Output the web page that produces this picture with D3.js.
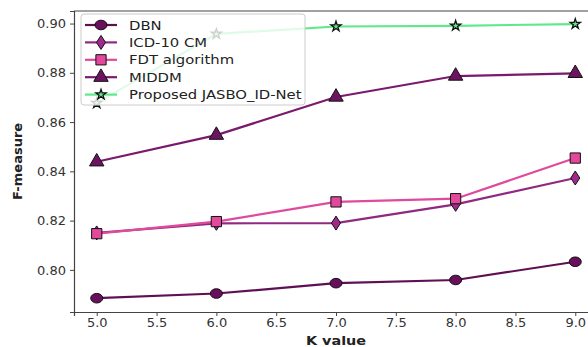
<!DOCTYPE html>
<html><head><meta charset="utf-8">
<script src="https://cdn.jsdelivr.net/npm/d3@7"></script>
<style>body{margin:0;background:#fff;}svg{display:block;font-family:"DejaVu Sans",sans-serif;}</style>
</head><body>
<svg id="c" width="588" height="347"></svg>
<script>
const kValues = [5, 6, 7, 8, 9];
const dbn = [0.7885, 0.7904, 0.7946, 0.7959, 0.8033];
const icd10 = [0.8150, 0.8189, 0.8190, 0.8266, 0.8373];
const fdt = [0.8147, 0.8196, 0.8276, 0.8289, 0.8454];
const middm = [0.8439, 0.8547, 0.8702, 0.8787, 0.8798];
const proposed = [0.8677, 0.8958, 0.8988, 0.8991, 0.8998];
const xTicks = [5.0, 5.5, 6.0, 6.5, 7.0, 7.5, 8.0, 8.5, 9.0];
const yTicks = [0.80, 0.82, 0.84, 0.86, 0.88, 0.90];

const series = [
  {name: "DBN", values: dbn, line: "#5e1053", fill: "#6a0f5c", marker: "circle"},
  {name: "ICD-10 CM", values: icd10, line: "#8f2a80", fill: "#a02a8c", marker: "diamond"},
  {name: "FDT algorithm", values: fdt, line: "#e04a9c", fill: "#e2489c", marker: "square"},
  {name: "MIDDM", values: middm, line: "#7a1a6c", fill: "#6c1462", marker: "triangle"},
  {name: "Proposed JASBO_ID-Net", values: proposed, line: "#5fe88c", fill: "#5fe88c", marker: "star"}
];

const svg = d3.select("#c");
const L = 74, R = 598, T = 11, B = 312;
const x = d3.scaleLinear().domain([4.81, 9.19]).range([L, R]);
const y = d3.scaleLinear().domain([0.7829, 0.9051]).range([B, T]);

const gx = svg.append("g").attr("transform", `translate(0,${B})`)
  .call(d3.axisBottom(x).tickValues(xTicks).tickFormat(d3.format(".1f")).tickSize(4).tickPadding(2));
const gy = svg.append("g").attr("transform", `translate(${L},0)`)
  .call(d3.axisLeft(y).tickValues(yTicks).tickFormat(d3.format(".2f")).tickSize(4).tickPadding(4));
[gx, gy].forEach(g => {
  g.select(".domain").attr("stroke", "#444").attr("stroke-width", 1.2);
  g.selectAll(".tick line").attr("stroke", "#444");
  g.selectAll("text").attr("font-size", 13).attr("fill", "#333").attr("font-family", "DejaVu Sans");
});
svg.append("line").attr("x1", L).attr("x2", R).attr("y1", T).attr("y2", T).attr("stroke", "#444").attr("stroke-width", 1.2);
svg.append("line").attr("x1", R).attr("x2", R).attr("y1", T).attr("y2", B).attr("stroke", "#444").attr("stroke-width", 1.2);

svg.append("text").attr("transform", `translate(${(L + R) / 2},345) scale(1.2,1)`).attr("text-anchor", "middle")
  .attr("font-size", 12).attr("font-weight", "bold").attr("fill", "#222").text("K value");
svg.append("text").attr("transform", `translate(22,${(T + B) / 2}) rotate(-90)`).attr("text-anchor", "middle")
  .attr("font-size", 13).attr("font-weight", "bold").attr("fill", "#222").text("F-measure");

const symbolFor = m => ({
  circle: d3.symbol().type(d3.symbolCircle).size(90),
  square: d3.symbol().type(d3.symbolSquare).size(105),
  triangle: d3.symbol().type(d3.symbolTriangle).size(90),
  star: d3.symbol().type(d3.symbolStar).size(32)
}[m]);

function drawMarker(g, s, cx, cy) {
  if (s.marker === "diamond") {
    g.append("path").attr("d", `M${cx},${cy - 7}L${cx + 4.5},${cy}L${cx},${cy + 7}L${cx - 4.5},${cy}Z`)
      .attr("fill", s.fill).attr("stroke", "#111").attr("stroke-width", 1);
  } else if (s.marker === "circle") {
    g.append("ellipse").attr("cx", cx).attr("cy", cy).attr("rx", 6).attr("ry", 4.8)
      .attr("fill", s.fill).attr("stroke", "#111").attr("stroke-width", 1);
  } else {
    g.append("path").attr("d", symbolFor(s.marker)()).attr("transform", `translate(${cx},${cy})`)
      .attr("fill", s.fill).attr("stroke", "#111").attr("stroke-width", s.marker === "star" ? 1.3 : 1);
  }
}

const line = d3.line().x((d, i) => x(kValues[i])).y(d => y(d));
series.forEach(s => {
  const g = svg.append("g");
  g.append("path").datum(s.values).attr("d", line).attr("fill", "none")
    .attr("stroke", s.line).attr("stroke-width", 2.2);
  s.values.forEach((v, i) => drawMarker(g, s, x(kValues[i]), y(v)));
});

// legend
const lg = svg.append("g");
lg.append("rect").attr("x", 81).attr("y", 14).attr("width", 224).attr("height", 91).attr("rx", 3)
  .attr("fill", "rgba(255,255,255,0.8)").attr("stroke", "#ccc").attr("stroke-width", 1);
series.forEach((s, i) => {
  const cy = 25 + i * 17.4;
  lg.append("line").attr("x1", 85).attr("x2", 117).attr("y1", cy).attr("y2", cy)
    .attr("stroke", s.line).attr("stroke-width", 2.2);
  drawMarker(lg, s, 101, cy);
  lg.append("text").attr("transform", `translate(129,${cy + 4.5}) scale(1.14,1)`)
    .attr("font-size", 13).attr("fill", "#222").text(s.name);
});
</script>
</body></html>
